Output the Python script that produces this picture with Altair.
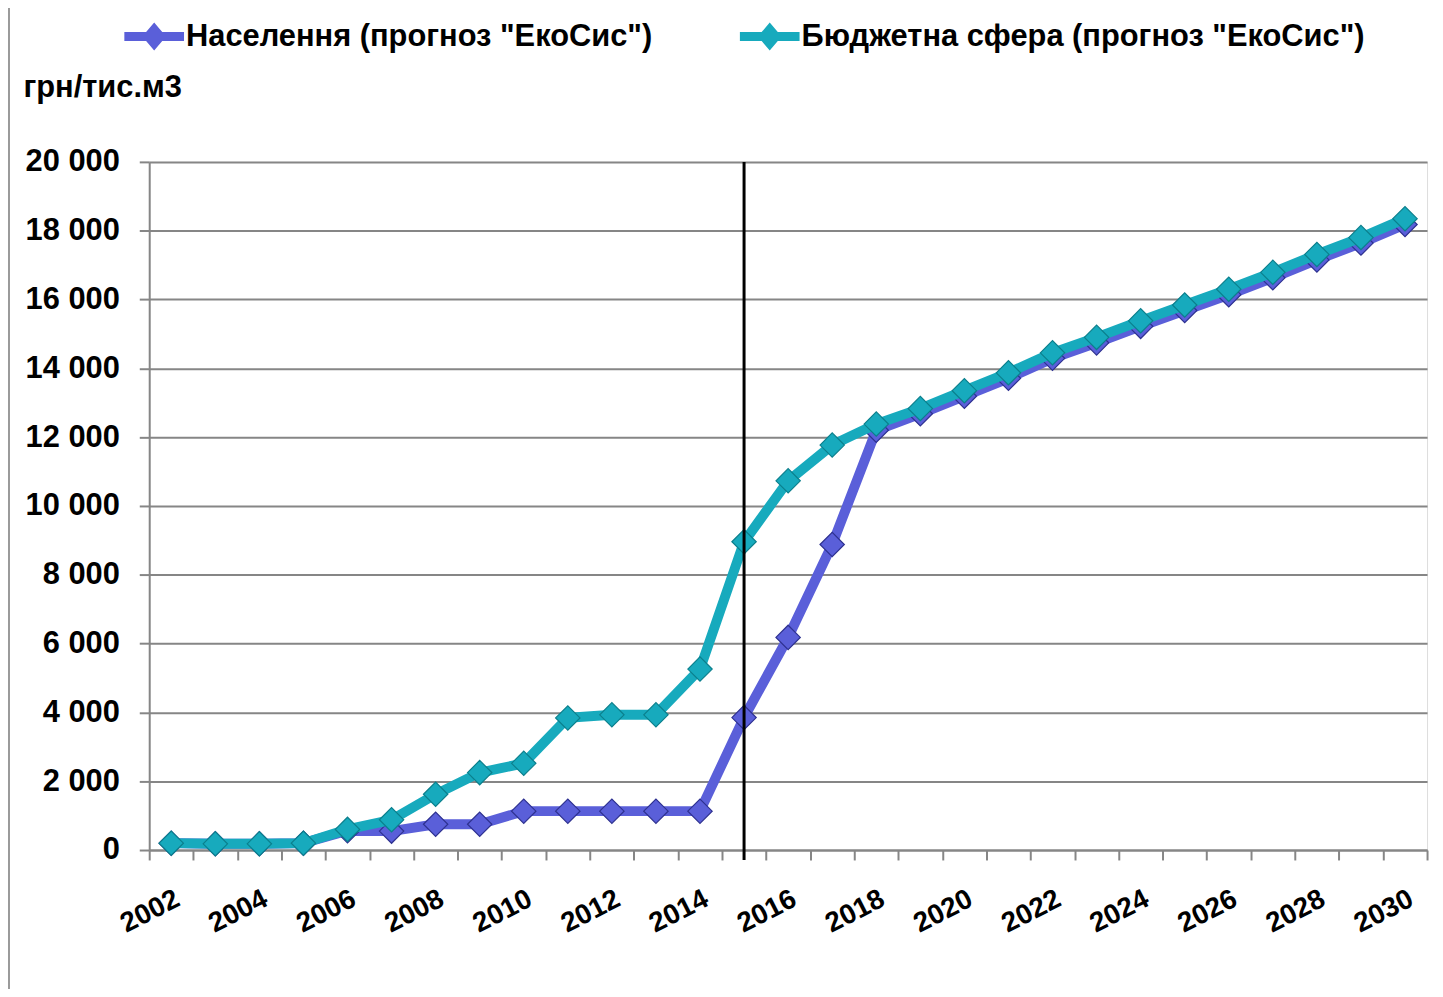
import altair as alt
import pandas as pd

years = list(range(2002, 2031))
series_names = ['Населення (прогноз "ЕкоСис")', 'Бюджетна сфера (прогноз "ЕкоСис")']
population = [200, 180, 180, 200, 560, 550, 750, 750, 1130, 1130, 1130, 1130, 1130,
              3850, 6180, 8880, 12200, 12680, 13190, 13710, 14290, 14740, 15220,
              15680, 16140, 16630, 17150, 17640, 18180]
budget = [200, 180, 180, 200, 600, 880, 1620, 2250, 2520, 3840, 3930, 3930, 5260,
          8960, 10730, 11770, 12380, 12830, 13350, 13870, 14450, 14900, 15380,
          15840, 16300, 16790, 17310, 17800, 18350]
y_unit = "грн/тис.м3"
divider_year = 2015

rows = []
for y, v in zip(years, population):
    rows.append({"year": y, "value": v, "series": series_names[0]})
for y, v in zip(years, budget):
    rows.append({"year": y, "value": v, "series": series_names[1]})
df = pd.DataFrame(rows)

FONT = "Liberation Sans"
line_colors = ["#5A5FD9", "#17AABD"]
stroke_colors = ["#2E3190", "#0B7F8C"]

half_ticks = [y - 0.5 for y in years] + [years[-1] + 0.5]

x_enc = alt.X(
    "year:Q",
    scale=alt.Scale(domain=[years[0] - 0.5, years[-1] + 0.5], nice=False, zero=False),
    axis=alt.Axis(
        values=half_ticks,
        labelExpr="(datum.value + 0.5) % 2 == 0 && datum.value < 2030 ? '' + (datum.value + 0.5) : ''",
        labelOffset=22,
        labelAngle=333,
        labelAlign="right",
        labelBaseline="top",
        labelPadding=25,
        labelFontSize=28,
        labelFontWeight="bold",
        labelFont=FONT,
        labelColor="black",
        tickSize=10,
        tickColor="#868686",
        tickWidth=2,
        domainColor="#868686",
        domainWidth=2,
        grid=False,
        title=None,
        labelOverlap=False,
        labelBound=False,
        labelFlush=False,
    ),
)
y_enc = alt.Y(
    "value:Q",
    scale=alt.Scale(domain=[0, 20000], nice=False),
    axis=alt.Axis(
        values=list(range(0, 20001, 2000)),
        labelExpr="replace(format(datum.value, ','), ',', ' ')",
        labelFontSize=31,
        labelFontWeight="bold",
        labelFont=FONT,
        labelColor="black",
        labelPadding=20,
        tickSize=10,
        tickColor="#868686",
        tickWidth=2,
        domainColor="#868686",
        domainWidth=2,
        gridColor="#868686",
        gridWidth=2,
        title=y_unit,
        titleAngle=0,
        titleAlign="left",
        titleBaseline="middle",
        titleX=-127,
        titleY=-75,
        titleFontSize=31,
        titleFontWeight="bold",
        titleFont=FONT,
        titleColor="black",
    ),
)

legend_path = ("M-1,-0.15 L-0.27,-0.15 L0,-0.47 L0.27,-0.15 L1,-0.15 L1,0.15 "
               "L0.27,0.15 L0,0.47 L-0.27,0.15 L-1,0.15 Z")

color_enc = alt.Color(
    "series:N",
    scale=alt.Scale(domain=series_names, range=line_colors),
    legend=alt.Legend(
        title=None,
        orient="none",
        legendX=-25,
        legendY=-156,
        direction="horizontal",
        columns=2,
        columnPadding=87,
        symbolType=legend_path,
        symbolSize=3600,
        symbolStrokeWidth=0,
        symbolOpacity=1,
        labelFontSize=31,
        labelFontWeight="bold",
        labelFont=FONT,
        labelColor="black",
        labelOffset=2,
        labelLimit=1000,
    ),
)

layers = []
for i, name in enumerate(series_names):
    d = df[df["series"] == name]
    line = alt.Chart(d).mark_line(strokeWidth=10, color=line_colors[i]).encode(
        x=x_enc, y=y_enc
    )
    pts = alt.Chart(d).mark_point(
        shape="diamond", filled=True, size=600, opacity=1,
        stroke=stroke_colors[i], strokeWidth=1.2
    ).encode(x=x_enc, y=y_enc, color=color_enc)
    layers += [line, pts]

divider = alt.Chart(pd.DataFrame({"year": [divider_year]})).mark_rule(
    color="black", strokeWidth=3
).encode(x="year:Q", y=alt.value(0), y2=alt.value(702))

border = alt.Chart(pd.DataFrame({"year": [divider_year]})).mark_rule(
    color="#9a9a9a", strokeWidth=2
).encode(x=alt.value(-141), y=alt.value(-160), y2=alt.value(850))

chart = alt.layer(*layers, divider, border).properties(
    width=1285,
    height=692,
    autosize=alt.AutoSizeParams(type="none"),
    padding={"left": 142, "top": 152, "right": 8, "bottom": 137},
).configure_view(stroke=None).configure(background="white")

chart.save("out.html", embed_options={"renderer": "svg", "actions": False})
